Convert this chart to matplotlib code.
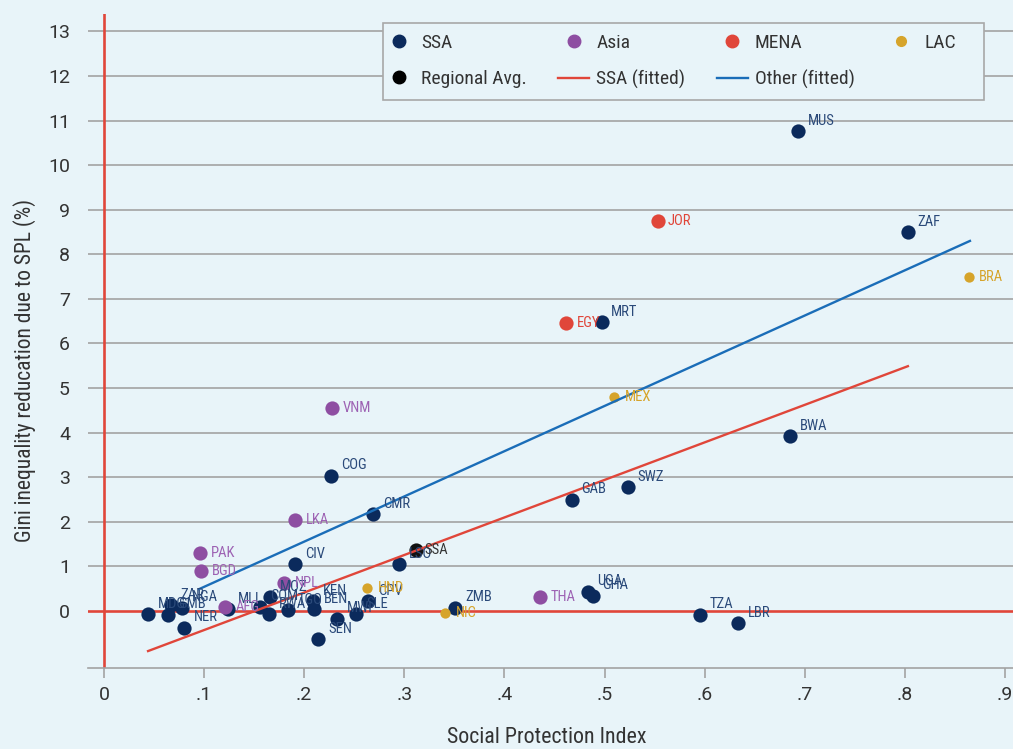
import matplotlib
matplotlib.use("Agg")
import matplotlib.pyplot as plt
from matplotlib.lines import Line2D
from matplotlib.patches import Rectangle

plt.rcParams['font.family'] = ['Roboto Condensed', 'DejaVu Sans']

# ---- data ----
ssa_names = ["MUS", "ZAF", "MRT", "BWA", "SWZ", "GAB", "COG", "CMR", "CIV", "LSO",
             "ZMB", "UGA", "GHA", "TZA", "LBR", "SEN", "MWI", "SLE", "CPV", "KEN",
             "BEN", "TGO", "RWA", "COM", "MOZ", "MLI", "NGA", "ZAR", "GMB", "MDG", "NER"]
ssa_x = [0.693, 0.803, 0.497, 0.685, 0.523, 0.467, 0.227, 0.269, 0.191, 0.295,
         0.351, 0.483, 0.488, 0.595, 0.633, 0.214, 0.233, 0.252, 0.264, 0.209,
         0.210, 0.184, 0.165, 0.156, 0.166, 0.124, 0.078, 0.067, 0.064, 0.044, 0.080]
ssa_y = [10.76, 8.50, 6.48, 3.92, 2.78, 2.49, 3.03, 2.17, 1.05, 1.05,
         0.07, 0.43, 0.34, -0.09, -0.27, -0.63, -0.18, -0.07, 0.22, 0.22,
         0.04, 0.02, -0.07, 0.09, 0.31, 0.04, 0.07, 0.13, -0.08, -0.07, -0.38]

asia_names = ["VNM", "LKA", "PAK", "BGD", "NPL", "AFG", "THA"]
asia_x = [0.228, 0.191, 0.096, 0.097, 0.180, 0.121, 0.436]
asia_y = [4.55, 2.04, 1.30, 0.90, 0.63, 0.09, 0.31]

mena_names = ["JOR", "EGY"]
mena_x = [0.553, 0.4615]
mena_y = [8.74, 6.46]

lac_names = ["BRA", "MEX", "HND", "NIC"]
lac_x = [0.864, 0.5095, 0.263, 0.341]
lac_y = [7.49, 4.80, 0.52, -0.04]

avg_names = ["SSA"]
avg_x = [0.312]
avg_y = [1.37]

ssa_fit_x = [0.044, 0.803]
ssa_fit_y = [-0.90, 5.49]
other_fit_x = [0.095, 0.865]
other_fit_y = [0.49, 8.30]

x_ticks = [0, 0.1, 0.2, 0.3, 0.4, 0.5, 0.6, 0.7, 0.8, 0.9]
x_tick_labels = ["0", ".1", ".2", ".3", ".4", ".5", ".6", ".7", ".8", ".9"]
y_ticks = list(range(0, 14))

# ---- style ----
BG = "#e8f4f9"
NAVY = "#0b2a5c"
NAVY_TXT = "#2b4a7a"
PURPLE = "#8e4ea2"
PURPLE_TXT = "#9d62b3"
RED = "#e0463a"
GOLD = "#d6a42b"
BLUE = "#1a6db8"
GRID = "#a3a3a3"
TXT = "#333333"

W, H = 1013, 749
fig = plt.figure(figsize=(W / 100, H / 100), dpi=100, facecolor=BG)
ax = fig.add_axes([88 / W, 81 / H, 925 / W, 654 / H])
ax.set_facecolor(BG)
ax.set_xlim(-0.016, 0.908)
ax.set_ylim(-1.28, 13.39)

for v in y_ticks:
    if v != 0:
        ax.axhline(v, color=GRID, lw=1.2, zorder=0)
ax.axhline(0, color=RED, lw=1.9, zorder=1)
ax.axvline(0, color=RED, lw=1.9, zorder=1)

ax.scatter(ssa_x, ssa_y, s=105, color=NAVY, zorder=2, linewidths=0)
ax.scatter(asia_x, asia_y, s=105, color=PURPLE, zorder=2, linewidths=0)
ax.scatter(mena_x, mena_y, s=105, color=RED, zorder=2, linewidths=0)
ax.scatter(lac_x, lac_y, s=55, color=GOLD, zorder=2, linewidths=0)
ax.scatter(avg_x, avg_y, s=105, color="#111111", zorder=2, linewidths=0)

ax.plot(ssa_fit_x, ssa_fit_y, color=RED, lw=1.7, zorder=3)
ax.plot(other_fit_x, other_fit_y, color=BLUE, lw=1.7, zorder=3)

fs = 10.5
for n, x, y in zip(ssa_names, ssa_x, ssa_y):
    ax.annotate(n, (x, y), xytext=(7, 2.5), textcoords="offset points",
                ha="left", va="bottom", fontsize=fs, color=NAVY_TXT, zorder=4)
for n, x, y in zip(asia_names, asia_x, asia_y):
    ax.annotate(n, (x, y), xytext=(7.5, 0), textcoords="offset points",
                ha="left", va="center", fontsize=fs, color=PURPLE_TXT, zorder=4)
for n, x, y in zip(mena_names, mena_x, mena_y):
    ax.annotate(n, (x, y), xytext=(7.5, 0), textcoords="offset points",
                ha="left", va="center", fontsize=fs, color=RED, zorder=4)
for n, x, y in zip(lac_names, lac_x, lac_y):
    ax.annotate(n, (x, y), xytext=(7.5, 0), textcoords="offset points",
                ha="left", va="center", fontsize=fs, color=GOLD, zorder=4)
for n, x, y in zip(avg_names, avg_x, avg_y):
    ax.annotate(n, (x, y), xytext=(6, 0), textcoords="offset points",
                ha="left", va="center", fontsize=fs, color="#333333", zorder=4)

for s in ["top", "right", "left"]:
    ax.spines[s].set_visible(False)
ax.spines["bottom"].set_color(GRID)
ax.spines["bottom"].set_linewidth(1.2)

ax.set_xticks(x_ticks)
ax.set_xticklabels(x_tick_labels)
ax.set_yticks(y_ticks)
ax.tick_params(axis="x", length=7, color=GRID, width=1.2, pad=6, labelsize=14, labelcolor=TXT)
ax.tick_params(axis="y", length=0, pad=13, labelsize=14, labelcolor=TXT)
for lab in ax.get_xticklabels() + ax.get_yticklabels():
    lab.set_family(["Roboto", "DejaVu Sans"])

ax.set_xlabel("Social Protection Index", fontsize=15.8, color=TXT)
ax.xaxis.set_label_coords(0.496, -0.090)
ax.set_ylabel("Gini inequality reducation due to SPL (%)", fontsize=15.5, color=TXT)
ax.yaxis.set_label_coords(-0.056, 0.455)

# legend box (drawn separately for exact padding)
box = Rectangle((383 / W, 1 - 100 / H), (984 - 383) / W, 77 / H, transform=fig.transFigure,
                facecolor=BG, edgecolor="#a8a8a8", linewidth=1.2, zorder=4)
fig.patches.append(box)

ms = 9
h_ssa = Line2D([], [], ls="none", marker="o", ms=ms, color=NAVY)
h_asia = Line2D([], [], ls="none", marker="o", ms=ms, color=PURPLE)
h_mena = Line2D([], [], ls="none", marker="o", ms=ms, color=RED)
h_lac = Line2D([], [], ls="none", marker="o", ms=7, color=GOLD)
h_avg = Line2D([], [], ls="none", marker="o", ms=ms, color="#000000")
h_sfit = Line2D([], [], color=RED, lw=1.7)
h_ofit = Line2D([], [], color=BLUE, lw=1.7)
handles = [h_ssa, h_avg, h_asia, h_sfit, h_mena, h_ofit, h_lac]
labels = ["SSA", "Regional Avg.", "Asia", "SSA (fitted)", "MENA", "Other (fitted)", "LAC"]
leg = fig.legend(handles, labels, ncol=4, loc="upper left",
                 bbox_to_anchor=(383 / W, 1 - 34 / H),
                 fontsize=14, frameon=False, handlelength=1.6, columnspacing=1.6,
                 borderpad=0, labelspacing=0.92, handletextpad=0.37, borderaxespad=0)
leg.set_zorder(5)
for t in leg.get_texts():
    t.set_color(TXT)

fig.savefig("out.png", dpi=100, facecolor=BG)
